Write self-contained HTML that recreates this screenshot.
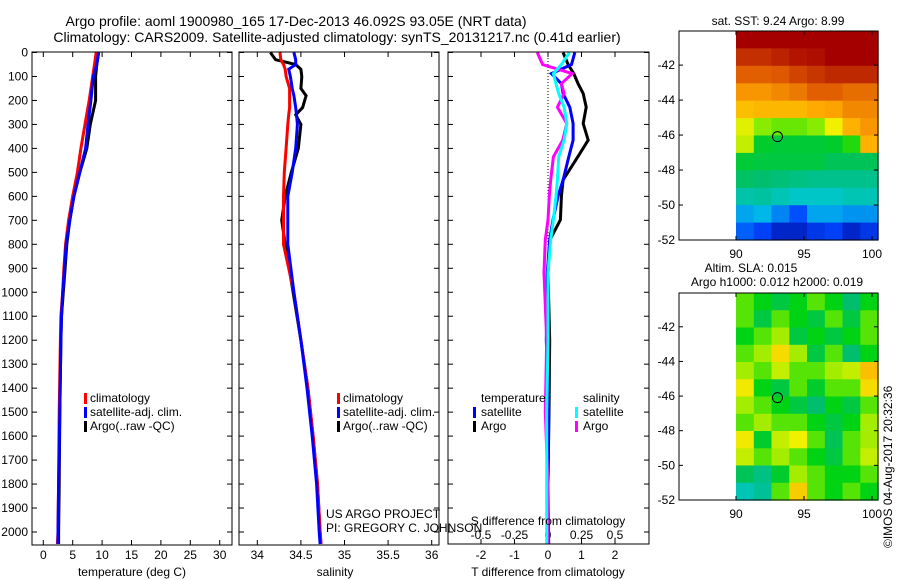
<!DOCTYPE html>
<html><head><meta charset="utf-8"><style>
html,body{margin:0;padding:0;background:#fff;width:900px;height:580px;overflow:hidden}
svg{display:block;font-family:"Liberation Sans",sans-serif;font-size:12px}
</style></head><body>
<svg id="fig" width="900" height="580" xmlns="http://www.w3.org/2000/svg">
<text x="296" y="26" text-anchor="middle" font-size="14">Argo profile: aoml 1900980_165 17-Dec-2013 46.092S 93.05E (NRT data)</text>
<text x="337" y="42" text-anchor="middle" font-size="14">Climatology: CARS2009. Satellite-adjusted climatology: synTS_20131217.nc (0.41d earlier)</text>
<g id="g"></g>
<text x="778" y="25" text-anchor="middle">sat. SST: 9.24 Argo: 8.99</text>
<text x="751" y="272" text-anchor="middle">Altim. SLA: 0.015</text>
<text x="777" y="286" text-anchor="middle">Argo h1000: 0.012 h2000: 0.019</text>
<text transform="translate(892,548) rotate(-90)">©IMOS 04-Aug-2017 20:32:36</text>
<text x="326" y="518">US ARGO PROJECT</text>
<text x="326" y="532">PI: GREGORY C. JOHNSON</text>
</svg>
<script>
// ---- data ----
const depthT = [0,50,100,200,300,400,500,600,700,800,900,1000,1100,1200,1500,1800,2000,2050];
const tempClim = [9.0,8.7,8.4,7.8,7.1,6.4,5.8,5.0,4.3,3.8,3.5,3.3,3.0,2.9,2.7,2.6,2.5,2.4];
const tempSat  = [9.4,9.1,8.5,8.1,7.6,7.2,6.2,5.2,4.5,3.9,3.6,3.3,3.1,3.0,2.8,2.6,2.5,2.5];
const tempArgo = [9.4,9.1,8.9,8.9,8.0,7.4,6.2,5.2,4.5,4.0,3.7,3.4,3.1,3.0,2.8,2.7,2.6,2.6];
const depthS = [0,30,50,70,100,150,180,230,260,300,400,500,600,700,800,1000,1200,1400,1600,1800,2000,2050];
const salClim = [34.26,34.27,34.30,34.32,34.33,34.37,34.37,34.37,34.36,34.35,34.33,34.31,34.30,34.30,34.30,34.42,34.50,34.58,34.64,34.69,34.72,34.73];
const salSat  = [34.42,34.44,34.44,34.36,34.38,34.40,34.42,34.44,34.45,34.46,34.44,34.40,34.35,34.35,34.35,34.42,34.50,34.57,34.63,34.68,34.71,34.72];
const salArgo = [34.15,34.21,34.44,34.50,34.51,34.50,34.56,34.52,34.44,34.50,34.47,34.39,34.32,34.28,34.32,34.41,34.50,34.58,34.64,34.69,34.72,34.73];
const depthD = [0,50,88,130,171,228,296,366,435,532,600,698,781,919,1200,1500,1800,2050];
const dTsat  = [0.80,0.70,0.10,0.40,0.45,0.65,0.75,0.75,0.62,0.45,0.30,0.15,0.05,-0.02,-0.05,0.02,0.0,0.02];
const dTargo = [0.45,0.60,0.77,0.90,1.05,1.14,1.05,1.20,0.89,0.45,0.40,0.37,0.06,0.0,0.05,0.03,0.0,0.0];
const dSsat  = [0.16,0.10,0.04,0.06,0.08,0.12,0.14,0.12,0.08,0.07,0.06,0.04,0.02,0.0,0.0,-0.01,-0.01,-0.01];
const dSargo = [-0.08,-0.04,0.18,0.10,0.12,0.07,0.14,0.11,0.04,0.02,0.01,0.0,-0.02,-0.03,-0.01,-0.02,0.0,0.0];
const depthTicks = [0,100,200,300,400,500,600,700,800,900,1000,1100,1200,1300,1400,1500,1600,1700,1800,1900,2000];
const tTicks = [0,5,10,15,20,25,30];
const sTicks = [34,34.5,35,35.5,36];
const dTTicks = [-2,-1,0,1,2];
const dSTicks = [-0.5,-0.25,0,0.25,0.5];
const latTicks = [-42,-44,-46,-48,-50,-52];
const lonTicks = [90,95,100];
const sstGrid = [
[1.00,1.00,1.00,1.00,1.00,1.00,1.00,1.00],
[0.93,0.93,0.95,0.97,0.98,1.00,1.00,1.00],
[0.86,0.86,0.87,0.90,0.92,0.94,0.94,0.94],
[0.78,0.78,0.80,0.82,0.86,0.86,0.84,0.84],
[0.72,0.73,0.73,0.73,0.75,0.76,0.80,0.80],
[0.64,0.58,0.56,0.56,0.58,0.65,0.74,0.78],
[0.62,0.48,0.47,0.47,0.47,0.48,0.52,0.74],
[0.47,0.46,0.46,0.46,0.46,0.44,0.44,0.44],
[0.43,0.42,0.41,0.40,0.39,0.39,0.39,0.39],
[0.36,0.37,0.35,0.33,0.33,0.33,0.35,0.35],
[0.26,0.28,0.22,0.16,0.26,0.26,0.24,0.24],
[0.18,0.14,0.08,0.08,0.12,0.14,0.08,0.12]];
const slaGrid = [
[0.55,0.50,0.46,0.50,0.55,0.50,0.42,0.50],
[0.55,0.46,0.55,0.50,0.46,0.55,0.46,0.55],
[0.50,0.55,0.60,0.46,0.50,0.46,0.50,0.55],
[0.55,0.60,0.68,0.60,0.46,0.55,0.42,0.50],
[0.60,0.55,0.62,0.55,0.55,0.60,0.62,0.72],
[0.66,0.50,0.46,0.55,0.48,0.55,0.55,0.68],
[0.60,0.55,0.50,0.46,0.42,0.50,0.46,0.55],
[0.55,0.60,0.55,0.55,0.50,0.46,0.50,0.60],
[0.66,0.48,0.62,0.65,0.55,0.44,0.55,0.60],
[0.62,0.55,0.60,0.55,0.50,0.46,0.55,0.62],
[0.44,0.40,0.48,0.60,0.55,0.50,0.50,0.55],
[0.35,0.38,0.55,0.70,0.55,0.50,0.55,0.50]];

// ---- helpers ----
const NS="http://www.w3.org/2000/svg";
const G=document.getElementById('g');
function mk(tag,attrs,parent){const e=document.createElementNS(NS,tag);for(const k in attrs)e.setAttribute(k,attrs[k]);(parent||G).appendChild(e);return e;}
const yD = d => 52.5 + d*0.23975;
const xT = t => 43.3 + t*5.88;
const xS = s => 257.3 + (s-34)*87.2;
const xDT = v => 548 + v*33.5;
const xDS = v => 548 + v*134;
function line(xs,ds,fx,color,name){
  let p='';for(let i=0;i<xs.length;i++){p+=(i?'L':'M')+fx(xs[i]).toFixed(1)+','+yD(ds[i]).toFixed(1);}
  const e=mk('path',{d:p,fill:'none',stroke:color,'stroke-width':3});
  
  
}
function box(x0,y0,x1,y1,name){
  const e=mk('rect',{x:x0,y:y0,width:x1-x0,height:y1-y0,fill:'none',stroke:'#000','stroke-width':1});
  
  
}
function xticks(ticks,fx,x0,x1,y0,y1,ty){
  ticks.forEach(t=>{const x=fx(t);
    mk('line',{x1:x,x2:x,y1:y1,y2:y1-5,stroke:'#000'});
    mk('line',{x1:x,x2:x,y1:y0,y2:y0+5,stroke:'#000'});
    const tx=mk('text',{x:x,y:ty,'text-anchor':'middle'});tx.textContent=t;
    
    
  });
}
function yticks(x0,x1){
  depthTicks.forEach(d=>{const y=yD(d);
    mk('line',{x1:x0,x2:x0+5,y1:y,y2:y,stroke:'#000'});
    mk('line',{x1:x1,x2:x1-5,y1:y,y2:y,stroke:'#000'});
  });
}
function label(x,y,txt,name,anchor){const t=mk('text',{x:x,y:y,'text-anchor':anchor||'start'});t.textContent=txt;
  
  
  return t;}
function legMark(x,y,color){mk('rect',{x:x,y:y-9,width:3,height:11,fill:color});}

// ---- panel 1: temperature ----
yticks(32,232);
depthTicks.forEach(d=>{label(28,yD(d)+4,String(d),'depth-tick-label','end');});
xticks(tTicks,xT,32,232,52,545,559);
line(tempArgo,depthT,xT,'#000','temp-argo-line');
line(tempClim,depthT,xT,'#f00','temp-clim-line');
line(tempSat,depthT,xT,'#00f','temp-sat-line');
box(32,52,232,545,'temperature-panel');
label(132,576,'temperature (deg C)','temperature-axis-title','middle');
legMark(84,402,'#f00');label(90,402,'climatology','legend-climatology');
legMark(84,416,'#00f');label(90,416,'satellite-adj. clim.','legend-satellite');
legMark(84,430,'#000');label(90,430,'Argo(..raw -QC)','legend-argo');

// ---- panel 2: salinity ----
yticks(239,439);
xticks(sTicks,xS,239,439,52,545,559);
line(salArgo,depthS,xS,'#000','sal-argo-line');
line(salClim,depthS,xS,'#f00','sal-clim-line');
line(salSat,depthS,xS,'#00f','sal-sat-line');
box(239,52,439,545,'salinity-panel');
label(335,576,'salinity','salinity-axis-title','middle');
legMark(337,402,'#f00');label(343,402,'climatology','legend-climatology-2');
legMark(337,416,'#00f');label(343,416,'satellite-adj. clim.','legend-satellite-2');
legMark(337,430,'#000');label(343,430,'Argo(..raw -QC)','legend-argo-2');

// ---- panel 3: differences ----
yticks(448,649);
xticks(dTTicks,xDT,448,649,52,544,559);
dSTicks.forEach(v=>{label(xDS(v),539,String(v),'s-tick-label','middle');});
mk('line',{x1:548,x2:548,y1:52,y2:544,stroke:'#000','stroke-dasharray':'1,2'});
line(dTargo,depthD,xDT,'#000','dt-argo-line');
line(dTsat,depthD,xDT,'#00f','dt-sat-line');
line(dSargo,depthD,xDS,'#f0f','ds-argo-line');
line(dSsat,depthD,xDS,'#0ff','ds-sat-line');
box(448,52,649,544,'difference-panel');
label(548,576,'T difference from climatology','t-diff-axis-title','middle');
label(548,525,'S difference from climatology','s-diff-axis-title','middle');
label(481,402,'temperature','legend-temperature-header');
legMark(473,416,'#00f');label(481,416,'satellite','legend-t-satellite');
legMark(473,430,'#000');label(481,430,'Argo','legend-t-argo');
label(583,402,'salinity','legend-salinity-header');
legMark(575,416,'#0ff');label(583,416,'satellite','legend-s-satellite');
legMark(575,430,'#f0f');label(583,430,'Argo','legend-s-argo');

// ---- maps ----
const cmapStops=[[0,[0,0,140]],[0.15,[0,70,255]],[0.3,[0,200,230]],[0.42,[0,190,110]],[0.5,[0,210,20]],[0.57,[120,235,0]],[0.65,[240,240,0]],[0.75,[255,170,0]],[0.86,[225,95,0]],[1,[165,0,0]]];
function cmap(v){
  for(let i=1;i<cmapStops.length;i++){
    if(v<=cmapStops[i][0]){const a=cmapStops[i-1],b=cmapStops[i];const f=(v-a[0])/(b[0]-a[0]);
      return 'rgb('+a[1].map((c,k)=>Math.round(c+(b[1][k]-c)*f)).join(',')+')';}
  }
  return 'rgb(165,0,0)';
}
function map(grid,top,bottom,name){
  const x0=679,x1=878,lonx=v=>736+(v-90)*13.6;
  const rows=grid.length,cols=grid[0].length;
  const cx0=736,cw=(x1-cx0)/cols,ch=(bottom-top)/rows;
  for(let r=0;r<rows;r++)for(let c=0;c<cols;c++){
    const e=mk('rect',{x:(cx0+c*cw).toFixed(1),y:(top+r*ch).toFixed(1),width:(cw+0.6).toFixed(1),height:(ch+0.6).toFixed(1),fill:cmap(grid[r][c])});
    
    
  }
  const degPx=(bottom-top)/11.95;
  const ly=v=>bottom-(v+52)*degPx;
  latTicks.forEach(v=>{const y=ly(v);mk('line',{x1:x0,x2:x0+4,y1:y,y2:y,stroke:'#000'});mk('line',{x1:x1,x2:x1-4,y1:y,y2:y,stroke:'#000'});
    label(x0-4,y+4,String(v),'lat-tick-label','end');});
  lonTicks.forEach(v=>{const x=lonx(v);mk('line',{x1:x,x2:x,y1:bottom,y2:bottom-4,stroke:'#000'});mk('line',{x1:x,x2:x,y1:top,y2:top+4,stroke:'#000'});
    label(x,bottom+18,String(v),'lon-tick-label','middle');});
  const m=mk('ellipse',{cx:lonx(93.05),cy:ly(-46.092),rx:5,ry:5,fill:'none',stroke:'#000'});
  
  
  box(x0,top,x1,bottom,name);
}
map(sstGrid,31,240,'sst-map');
map(slaGrid,293,500,'sla-map');
</script>
</body></html>
